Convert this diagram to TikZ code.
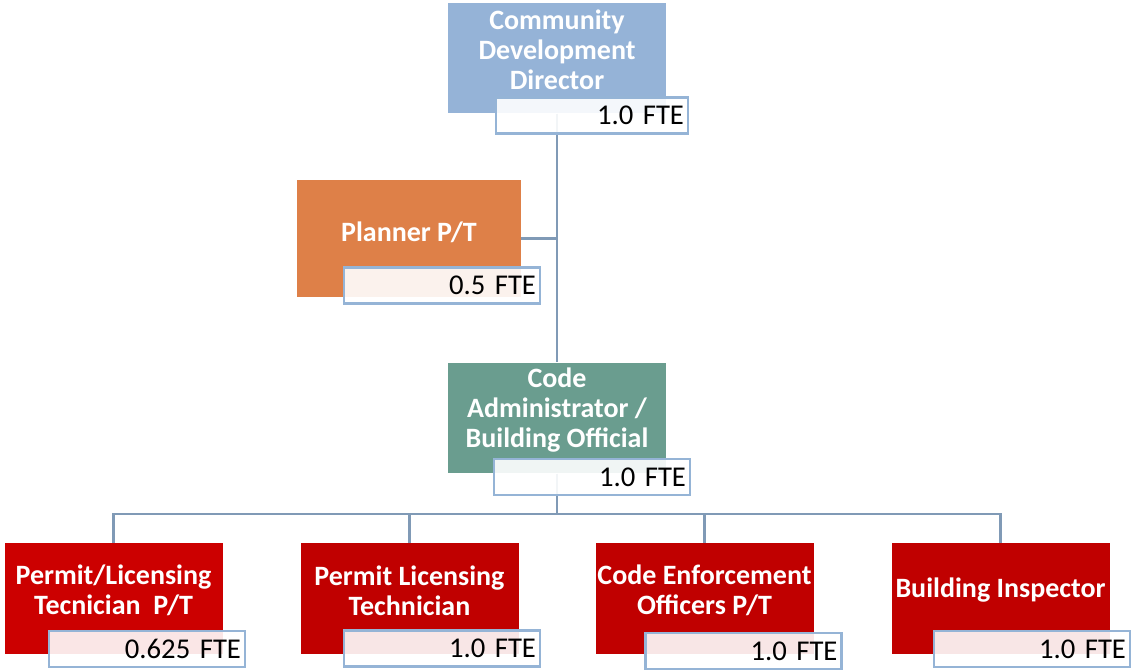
\documentclass[tikz,border=0pt]{standalone}
\usepackage{fontspec}
\setmainfont{Carlito}
\usepackage{xcolor}
\usepackage{tikz}

\definecolor{dirblue}{RGB}{149,179,215}
\definecolor{planorange}{RGB}{222,128,72}
\definecolor{admingreen}{RGB}{106,157,143}
\definecolor{staffred}{RGB}{192,0,0}
\definecolor{permred}{RGB}{204,0,0}
\definecolor{ftebord}{RGB}{149,180,214}
\definecolor{linkgray}{RGB}{128,154,182}

\tikzset{
  posbox/.style={draw=none, minimum width=163.5pt, minimum height=83pt, inner sep=0pt},
  postext/.style={text=white, font=\bfseries\fontsize{21}{22.5}\selectfont, align=center, inner sep=0pt},
  ftebox/.style={draw=ftebord, line width=1.8pt, fill=white, fill opacity=0.9, text opacity=1,
    minimum height=27pt, text width=141pt, inner xsep=3pt, align=right,
    font=\fontsize{21.5}{22.5}\selectfont},
  link/.style={draw=linkgray, line width=2.2pt}
}

\begin{document}
\begin{tikzpicture}[x=0.75pt,y=0.75pt,yscale=-1,xscale=1]
\useasboundingbox (0,0) rectangle (1133,671);

% boxes
\node[posbox, fill=dirblue] (dir) at (557,58) {};
\node[posbox, fill=planorange, minimum width=168pt, minimum height=88pt] (plan) at (409,238.5) {};
\node[posbox, fill=admingreen] (admin) at (557,418) {};
\node[posbox, fill=permred] (tech1) at (113.5,598.5) {};
\node[posbox, fill=staffred] (tech2) at (409.5,598.5) {};
\node[posbox, fill=staffred] (enf) at (704.5,598.5) {};
\node[posbox, fill=staffred] (insp) at (1000.5,598.5) {};

% connectors
\coordinate (bus) at (557,514);
\draw[link] (dir.south) -- (admin.north);
\draw[link] (plan.east) -- (plan.east -| dir.south);
\draw[link] (admin.south) -- (bus);
\foreach \b in {tech1,tech2,enf,insp}
  \draw[link] (bus) -| (\b.north);

% titles
\node[postext] (dirtxt) at ([yshift=-6pt]dir.center) {Community\\Development\\Director};
\node[postext] (plantxt) at ([yshift=-5pt]plan.center) {Planner P/T};
\node[postext] (admintxt) at ([yshift=-6pt]admin.center) {Code\\Administrator /\\Building Official};
\node[postext] (tech1txt) at ([yshift=-6pt]tech1.center) {Permit/Licensing\\Tecnician\ \ P/T};
\node[postext] (tech2txt) at ([yshift=-6pt]tech2.center) {Permit Licensing\\Technician};
\node[postext] (enftxt) at ([yshift=-6pt]enf.center) {Code Enforcement\\Officers P/T};
\node[postext] (insptxt) at ([yshift=-6pt]insp.center) {Building Inspector};

% FTE boxes
\node[ftebox, text width=138pt] (dirfte) at (592,115.5) {1.0 FTE};
\node[ftebox] (planfte) at (442,285.5) {0.5 FTE};
\node[ftebox] (adminfte) at (592,477) {1.0 FTE};
\node[ftebox] (tech1fte) at (147,649) {0.625 FTE};
\node[ftebox] (tech2fte) at (442,648.5) {1.0 FTE};
\node[ftebox] (enffte) at (743.5,651) {1.0 FTE};
\node[ftebox] (inspfte) at (1032,649) {1.0 FTE};
\end{tikzpicture}
\end{document}
